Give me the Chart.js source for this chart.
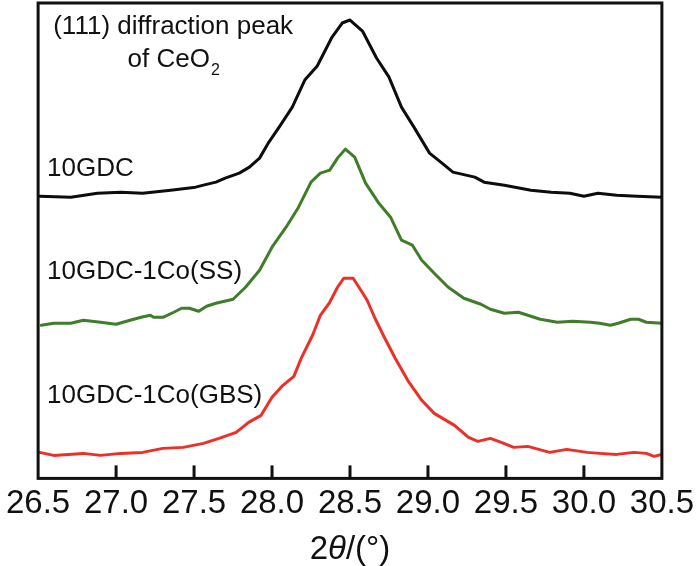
<!DOCTYPE html>
<html>
<head>
<meta charset="utf-8">
<script src="https://cdn.jsdelivr.net/npm/chart.js@4/dist/chart.umd.min.js"></script>
<style>
  html, body { margin: 0; padding: 0; background: #fff; }
  #wrap { width: 700px; height: 566px; }
</style>
</head>
<body>
<div id="wrap"><canvas id="chart"></canvas></div>
<script>
// 2theta (deg) and intensity (a.u., curves offset vertically)
var gdcX = [26.51, 26.71, 26.88, 27.03, 27.17, 27.35, 27.51, 27.56, 27.64, 27.70, 27.79, 27.855, 27.92, 27.98, 28.05, 28.13, 28.21, 28.29, 28.385, 28.45, 28.50, 28.58, 28.67, 28.75, 28.83, 28.91, 29.01, 29.09, 29.16, 29.30, 29.36, 29.49, 29.66, 29.79, 29.91, 30.00, 30.09, 30.21, 30.34, 30.50];
var gdcY = [282, 281, 285, 286, 285, 288, 291, 293, 296, 300, 305, 311, 320, 336, 352, 371, 398, 412, 441, 455, 458, 447, 420, 401, 371, 351, 325, 315, 306, 301, 296, 293, 288, 286, 285, 282, 285, 283, 282, 281];

var ssX = [26.52, 26.60, 26.71, 26.79, 26.90, 27.00, 27.09, 27.16, 27.22, 27.24, 27.30, 27.37, 27.42, 27.47, 27.53, 27.58, 27.64, 27.75, 27.83, 27.92, 28.00, 28.09, 28.17, 28.25, 28.31, 28.37, 28.42, 28.47, 28.53, 28.60, 28.68, 28.76, 28.83, 28.90, 28.96, 29.04, 29.13, 29.23, 29.34, 29.40, 29.49, 29.58, 29.64, 29.72, 29.83, 29.93, 30.04, 30.10, 30.17, 30.22, 30.30, 30.35, 30.40, 30.50];
var ssY = [153, 155, 155, 158, 156, 154, 158, 161, 163, 161, 161, 166, 170, 170, 167, 172, 175, 179, 191, 208, 231, 251, 271, 296, 305, 308, 320, 329, 321, 295, 276, 261, 238, 233, 218, 205, 191, 180, 174, 169, 165, 166, 163, 159, 156, 157, 156, 155, 153, 155, 159, 159, 156, 155];

var gbsX = [26.51, 26.60, 26.79, 26.90, 27.03, 27.17, 27.30, 27.43, 27.56, 27.66, 27.77, 27.85, 27.93, 28.00, 28.07, 28.14, 28.19, 28.26, 28.31, 28.37, 28.42, 28.46, 28.52, 28.57, 28.61, 28.66, 28.72, 28.79, 28.87, 28.96, 29.04, 29.17, 29.26, 29.32, 29.40, 29.47, 29.55, 29.64, 29.78, 29.89, 30.02, 30.10, 30.21, 30.32, 30.40, 30.45, 30.50];
var gbsY = [26, 23, 25, 23, 25, 26, 30, 31, 35, 40, 46, 56, 63, 81, 93, 102, 121, 143, 163, 176, 191, 200, 200, 188, 178, 160, 141, 120, 98, 78, 65, 53, 41, 37, 40, 36, 31, 32, 26, 29, 26, 25, 24, 26, 25, 22, 24];

var seriesNames = ['10GDC', '10GDC-1Co(SS)', '10GDC-1Co(GBS)'];
var xTicks = [26.5, 27.0, 27.5, 28.0, 28.5, 29.0, 29.5, 30.0, 30.5];

var FONT = '"Liberation Sans", Arial, sans-serif';

function pts(xs, ys) {
    return xs.map(function (x, i) { return { x: x, y: ys[i] }; });
}

function lineSet(label, xs, ys, color) {
    return {
        label: label,
        data: pts(xs, ys),
        borderColor: color,
        borderWidth: 3,
        pointRadius: 0,
        tension: 0,
        borderJoinStyle: 'round',
        borderCapStyle: 'round',
        fill: false
    };
}

// frame, inward ticks, curve labels and axis title
var decor = {
    id: 'decor',
    afterDraw: function (chart) {
        var ctx = chart.ctx;
        var a = chart.chartArea;
        var xs = chart.scales.x;
        var ys = chart.scales.y;
        ctx.save();

        ctx.strokeStyle = '#111';
        ctx.lineWidth = 3;
        ctx.strokeRect(a.left, a.top, a.right - a.left, a.bottom - a.top);

        xTicks.forEach(function (t, i) {
            if (i === 0 || i === xTicks.length - 1) return;
            var px = xs.getPixelForValue(t);
            ctx.beginPath();
            ctx.moveTo(px, a.bottom);
            ctx.lineTo(px, a.bottom - 13);
            ctx.stroke();
        });

        ctx.fillStyle = '#111';
        ctx.font = '26px ' + FONT;
        ctx.textAlign = 'left';
        ctx.textBaseline = 'alphabetic';
        var lx = xs.getPixelForValue(26.557);
        ctx.fillText(seriesNames[0], lx, ys.getPixelForValue(302));
        ctx.fillText(seriesNames[1], lx, ys.getPixelForValue(199));
        ctx.fillText(seriesNames[2], lx, ys.getPixelForValue(75));

        // (111) note
        var cx = xs.getPixelForValue(27.366);
        ctx.textAlign = 'center';
        ctx.fillText('(111) diffraction peak', cx, ys.getPixelForValue(444));
        var main = 'of CeO';
        var w1 = ctx.measureText(main).width;
        ctx.font = '16px ' + FONT;
        var w2 = ctx.measureText('2').width;
        var sx = cx - (w1 + w2) / 2;
        ctx.textAlign = 'left';
        ctx.font = '26px ' + FONT;
        ctx.fillText(main, sx, ys.getPixelForValue(411));
        ctx.font = '16px ' + FONT;
        ctx.fillText('2', sx + w1 + 1, ys.getPixelForValue(403));

        // axis title 2θ/(°)
        ctx.font = '33px ' + FONT;
        var p1 = '2', p3 = '/(\u00b0)';
        var wa = ctx.measureText(p1).width;
        var wc = ctx.measureText(p3).width;
        ctx.font = 'italic 33px ' + FONT;
        var wb = ctx.measureText('\u03b8').width;
        var tx = (a.left + a.right) / 2 - (wa + wb + wc) / 2;
        var ty = 559;
        ctx.font = '33px ' + FONT;
        ctx.fillText(p1, tx, ty);
        ctx.font = 'italic 33px ' + FONT;
        ctx.fillText('\u03b8', tx + wa, ty);
        ctx.font = '33px ' + FONT;
        ctx.fillText(p3, tx + wa + wb, ty);

        ctx.restore();
    }
};

var chart = new Chart(document.getElementById('chart'), {
    type: 'line',
    data: {
        datasets: [
            lineSet(seriesNames[0], gdcX, gdcY, '#0d0d0d'),
            lineSet(seriesNames[1], ssX, ssY, '#3f7d2b'),
            lineSet(seriesNames[2], gbsX, gbsY, '#ec3027')
        ]
    },
    options: {
        responsive: true,
        maintainAspectRatio: false,
        animation: false,
        layout: {
            padding: { left: 34, right: 38, top: 3, bottom: 36 }
        },
        plugins: {
            legend: { display: false },
            tooltip: { enabled: false }
        },
        scales: {
            x: {
                type: 'linear',
                min: 26.5,
                max: 30.5,
                afterBuildTicks: function (scale) {
                    scale.ticks = xTicks.map(function (v) { return { value: v }; });
                },
                ticks: {
                    color: '#111',
                    padding: 6,
                    maxRotation: 0,
                    autoSkip: false,
                    font: { family: FONT, size: 33 },
                    callback: function (v) { return Number(v).toFixed(1); }
                },
                grid: { display: false, drawTicks: false },
                border: { display: false }
            },
            y: {
                display: false,
                min: 0,
                max: 475
            }
        }
    },
    plugins: [decor]
});
</script>
</body>
</html>
